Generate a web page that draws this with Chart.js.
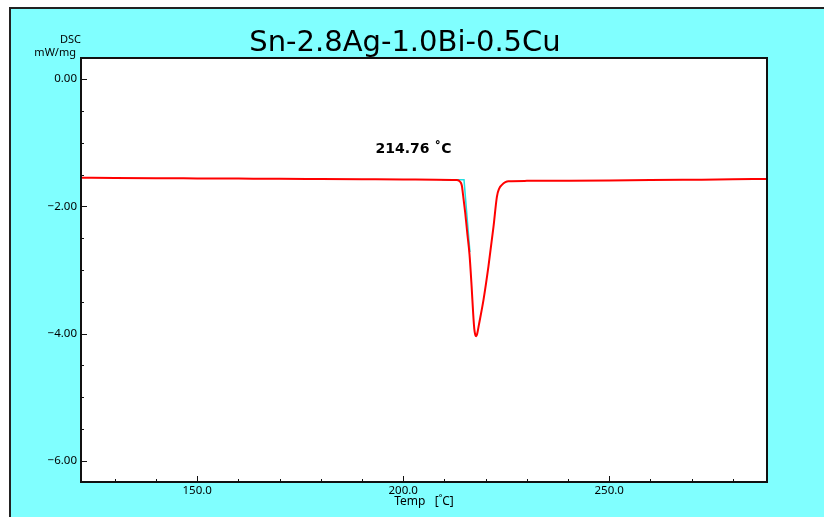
<!DOCTYPE html>
<html>
<head>
<meta charset="utf-8">
<script src="https://cdn.jsdelivr.net/npm/chart.js@4.4.1/dist/chart.umd.min.js"></script>
<style>
  html, body { margin: 0; padding: 0; background: #ffffff; overflow: hidden; }
  #wrap { position: absolute; left: 0; top: 0; width: 824px; height: 517px; }
</style>
</head>
<body>
<div id="wrap"><canvas id="dscChart" width="824" height="517"></canvas></div>
<script>
// Sample name and axis texts
var titleText = 'Sn-2.8Ag-1.0Bi-0.5Cu';
var peakLabel = '214.76 \u02DAC';

// Temperature [C] and DSC signal [mW/mg]
var temps = [121.8, 130, 140, 150, 160, 170, 180, 190, 200, 208, 212, 212.9, 213.6, 214.0,
  214.25, 214.64, 215.05, 215.6, 216.09, 216.6, 217.0, 217.25, 217.5, 217.75, 218.0, 218.35,
  219.49, 220.7, 221.92, 222.74, 223.3, 223.96, 224.8, 225.56, 230, 240, 250, 260, 270, 280, 288.3];

var dscValues = [-1.550, -1.554, -1.558, -1.561, -1.564, -1.567, -1.571, -1.575, -1.579, -1.582,
  -1.585, -1.587, -1.600, -1.63, -1.68, -1.88, -2.10, -2.45, -2.75, -3.25, -3.70, -3.92, -4.02,
  -4.04, -3.99, -3.87, -3.47, -2.94, -2.32, -1.85, -1.72, -1.663, -1.62, -1.605, -1.600, -1.597,
  -1.593, -1.588, -1.582, -1.576, -1.570];

// Onset construction (baseline + tangent)
var onsetTemps = [209.4, 214.76, 216.2];
var onsetValues = [-1.584, -1.584, -2.72];

// Axis ranges
var xMin = 121.8, xMax = 288.3;
var yMin = -6.33, yMax = 0.33;

var labelFont = '11px "Noto Sans"';

function toPoints(xs, ys)
{
  var pts = [];

  for (var i = 0; i < xs.length; i++)
  {
    pts.push({ x: xs[i], y: ys[i] });
  }

  return pts;
}

function isMultiple(v, step)
{
  var r = Math.abs(v / step - Math.round(v / step));

  return r < 1e-6;
}

// Window background, plot area, frame, inward ticks and free texts
var decorPlugin = {
  id: 'decor',

  beforeDraw: function (chart) {
    var a = chart.chartArea;
    var ctx = chart.ctx;

    ctx.save();

    // cyan window with dark top/left edge
    ctx.fillStyle = '#80ffff';
    ctx.fillRect(9, 7, chart.width - 9, chart.height - 7);
    ctx.fillStyle = '#222';
    ctx.fillRect(9, 7, chart.width - 9, 2);
    ctx.fillRect(9, 7, 2, chart.height - 7);

    ctx.fillStyle = '#ffffff';
    ctx.fillRect(a.left, a.top, a.right - a.left, a.bottom - a.top);
    ctx.restore();
  },

  afterDraw: function (chart) {
    var a = chart.chartArea;
    var ctx = chart.ctx;
    var xs = chart.scales.x;
    var ys = chart.scales.y;

    ctx.save();

    // frame
    ctx.strokeStyle = '#111';
    ctx.lineWidth = 2;
    ctx.strokeRect(a.left, a.top, a.right - a.left, a.bottom - a.top);

    // inward tick marks
    ctx.lineWidth = 1;
    ctx.beginPath();

    xs.ticks.forEach(function (t) {
      var px = Math.round(xs.getPixelForValue(t.value)) + 0.5;
      var len = isMultiple(t.value, 50) ? 6 : 3;

      ctx.moveTo(px, a.bottom);
      ctx.lineTo(px, a.bottom - len);
    });

    ys.ticks.forEach(function (t) {
      var py = Math.round(ys.getPixelForValue(t.value)) + 0.5;
      var len = isMultiple(t.value, 2) ? 6 : 3;

      ctx.moveTo(a.left, py);
      ctx.lineTo(a.left + len, py);
    });

    ctx.stroke();

    // title
    ctx.fillStyle = '#000';
    ctx.font = '29px "DejaVu Sans"';
    ctx.textAlign = 'center';
    ctx.textBaseline = 'alphabetic';
    ctx.fillText(titleText, 405, 51);

    // y axis unit
    ctx.font = labelFont;
    ctx.textAlign = 'right';
    ctx.textBaseline = 'middle';
    ctx.fillText('DSC', 81, 40);
    ctx.fillText('mW/mg', 76, 53);

    // x axis title
    ctx.font = '12px "Noto Sans"';
    ctx.textAlign = 'center';
    ctx.fillText('Temp   [\u02DAC]', (a.left + a.right) / 2, 502);

    // onset label
    ctx.font = 'bold 14px "DejaVu Sans"';
    ctx.fillText(peakLabel, xs.getPixelForValue(202.5), ys.getPixelForValue(-1.10));

    ctx.restore();
  }
};

var dscChart = new Chart(document.getElementById('dscChart'), {

  type: 'line',

  data: {
    datasets: [
      {
        label: 'DSC',

        data: toPoints(temps, dscValues),

        borderColor: '#ff0000',

        borderWidth: 2,

        pointRadius: 0,

        cubicInterpolationMode: 'monotone',

        order: 1
      },
      {
        label: 'Onset',

        data: toPoints(onsetTemps, onsetValues),

        borderColor: '#22dde0',

        borderWidth: 1.5,

        pointRadius: 0,

        tension: 0,

        order: 2
      }
    ]
  },

  options: {
    responsive: false,

    animation: false,

    layout: {
      padding: { left: 0, top: 58, right: 57, bottom: 0 }
    },

    plugins: {
      legend: { display: false },

      title: { display: false },

      tooltip: { enabled: false }
    },

    scales: {
      x: {
        type: 'linear',

        min: xMin,

        max: xMax,

        grid: { display: false, drawTicks: false },

        border: { display: true, color: '#111', width: 2 },

        ticks: {
          stepSize: 10,

          includeBounds: false,

          autoSkip: false,

          maxRotation: 0,

          padding: 2,

          color: '#000',

          font: { family: 'Noto Sans', size: 11.5 },

          callback: function (v) {
            return isMultiple(v, 50) ? v.toFixed(1) : '';
          }
        },

        afterFit: function (scale) {
          scale.height = 35;
        }
      },
      y: {
        type: 'linear',

        min: yMin,

        max: yMax,

        grid: { display: false, drawTicks: false },

        border: { display: true, color: '#111', width: 2 },

        ticks: {
          stepSize: 0.5,

          includeBounds: false,

          autoSkip: false,

          padding: 4,

          color: '#000',

          font: { family: 'Noto Sans', size: 11.5 },

          callback: function (v) {
            return isMultiple(v, 2) ? v.toFixed(2).replace('-', '\u2212') : '';
          }
        },

        afterFit: function (scale) {
          scale.width = 81;
        }
      }
    }
  },

  plugins: [decorPlugin]
});
</script>
</body>
</html>
